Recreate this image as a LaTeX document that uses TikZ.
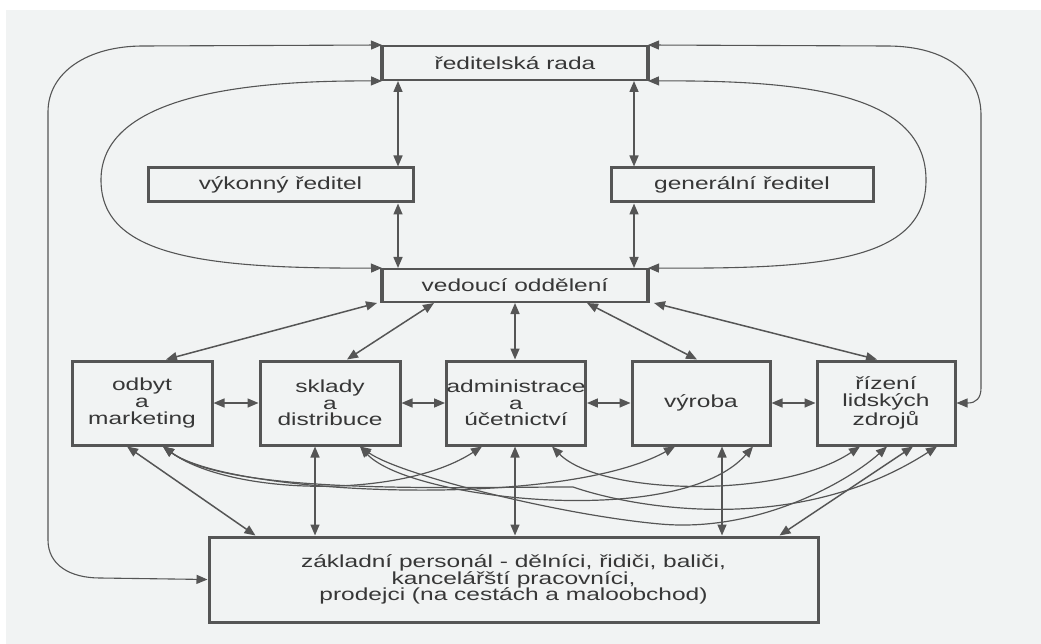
\documentclass[tikz,border=0pt]{standalone}
\usepackage{fontspec}
\setmainfont{Liberation Sans}[FakeStretch=1.4]
\usetikzlibrary{arrows.meta}
\definecolor{bg}{RGB}{241,243,243}
\definecolor{ln}{RGB}{85,85,85}
\definecolor{tx}{RGB}{55,55,55}
\begin{document}
\begin{tikzpicture}[x=1pt,y=-1pt,
  >={Triangle[length=11pt,width=9pt]},
  box/.style={draw=ln, line width=3pt, inner sep=0pt, align=center, text=tx,
    font=\fontsize{17.5}{16.7}\selectfont},
  wide/.style={box, minimum width=264pt, minimum height=34pt},
  dept/.style={box, minimum width=140pt, minimum height=84pt},
  arr/.style={draw=ln, line width=1.5pt, <->},
  crv/.style={draw=ln, line width=1.2pt, <->},
  edge/.style={draw=ln, line width=4.5pt}]
\useasboundingbox (0,0) rectangle (1041,644);
\fill[white] (0,0) rectangle (1041,644);
\fill[bg] (6,10) rectangle (1041,644);

% boxes
\node[wide, line width=2pt] (rada) at (515,63) {ředitelská rada};
\draw[edge] (rada.north west) -- (rada.south west);
\draw[edge] (rada.north east) -- (rada.south east);
\node[wide, minimum width=265pt] (vyk) at (280.5,185) {výkonný ředitel};
\node[wide, minimum width=262pt] (gen) at (742,185) {generální ředitel};
\node[wide, minimum height=33pt, line width=2pt] (ved) at (515,285.5) {vedoucí oddělení};
\draw[edge] (ved.north west) -- (ved.south west);
\draw[edge] (ved.north east) -- (ved.south east);

\node[dept] (odb) at (142,403) {odbyt\\a\\marketing};
\node[dept] (skl) at (330,403) {sklady\\a\\distribuce};
\node[dept, minimum width=138pt] (adm) at (516,403) {administrace\\a\\účetnictví};
\node[dept, minimum width=138pt] (vyr) at (701,403) {výroba};
\node[dept, minimum width=138pt] (riz) at (886,403) {řízení\\lidských\\zdrojů};

\node[box, minimum width=609pt, minimum height=85pt] (zak) at (513.5,579.5)
  {základní personál - dělníci, řidiči, baliči,\\kancelářští pracovníci,\\prodejci (na cestách a maloobchod)};

% top vertical arrows
\draw[arr] ([xshift=16pt]rada.south west) -- ([xshift=16pt]rada.south west |- vyk.north);
\draw[arr] ([xshift=16pt]ved.north west |- vyk.south) -- ([xshift=16pt]ved.north west);
\draw[arr] ([xshift=-14pt]rada.south east) -- ([xshift=-14pt]rada.south east |- gen.north);
\draw[arr] ([xshift=-14pt]ved.north east |- gen.south) -- ([xshift=-14pt]ved.north east);

% loops
\draw[crv, line width=1.1pt] (rada.north west) -- (143,46) .. controls (88,46) and (48,72) .. (48,112)
  -- (48,540) .. controls (48,565) and (70,578) .. (100,578) -- (zak.west);
\draw[crv, line width=1.1pt] (rada.north east) -- (887,46) .. controls (948,46) and (981,75) .. (981,115)
  -- (981,388) .. controls (981,398) and (976,403) .. (968,403) -- (riz.east);
\draw[crv, line width=1.1pt] (rada.south west) .. controls (200,80) and (101,110) .. (101,180)
  .. controls (101,255) and (200,269) .. (ved.north west);
\draw[crv, line width=1.1pt] (rada.south east) .. controls (810,80) and (926,95) .. (926,180)
  .. controls (926,262) and (820,269) .. (ved.north east);

% vedouci to departments
\draw[arr] ([xshift=-5pt]ved.south west) -- ([xshift=24pt]odb.north);
\draw[arr] ([xshift=52pt]ved.south west) -- ([xshift=17pt]skl.north);
\draw[arr] (ved.south) -- (ved.south |- adm.north);
\draw[arr] ([xshift=72pt]ved.south) -- ([xshift=-4pt]vyr.north);
\draw[arr] ([xshift=6pt]ved.south east) -- ([xshift=-9pt]riz.north);

% horizontal
\draw[arr] (odb.east) -- (skl.west);
\draw[arr] (skl.east) -- (adm.west);
\draw[arr] (adm.east) -- (vyr.west);
\draw[arr] (vyr.east) -- (riz.west);

% departments to basic staff
\draw[arr] ([xshift=-15pt]odb.south) -- ([xshift=48pt]zak.north west);
\draw[arr] ([xshift=-15pt]skl.south) -- ([xshift=-15pt]skl.south |- zak.north);
\draw[arr] ([xshift=-1pt]adm.south) -- ([xshift=-1pt]adm.south |- zak.north);
\draw[arr] ([xshift=21pt]vyr.south) -- ([xshift=21pt]vyr.south |- zak.north);
\draw[arr] ([xshift=27pt]riz.south) -- ([xshift=-40pt]zak.north east);

% curves between departments
\draw[crv] ([xshift=21pt]odb.south) .. controls (230,495) and (400,500) .. ([xshift=-34pt]adm.south);
\draw[crv] ([xshift=21pt]odb.south) .. controls (230,495) and (560,510) .. ([xshift=-26pt]vyr.south);
\draw[crv] ([xshift=21pt]odb.south) .. controls (230,495) and (450,487) .. (573,487)
  .. controls (640,510) and (800,535) .. ([xshift=51pt]riz.south);
\draw[crv] ([xshift=30pt]skl.south) .. controls (410,500) and (680,530) .. ([xshift=52pt]vyr.south);
\draw[crv] ([xshift=30pt]skl.south) .. controls (400,475) and (560,515) .. (660,524)
  .. controls (760,533) and (850,480) .. ([xshift=1pt]riz.south);
\draw[crv] ([xshift=36pt]adm.south) .. controls (600,495) and (780,500) .. ([xshift=-26pt]riz.south);
\end{tikzpicture}
\end{document}
